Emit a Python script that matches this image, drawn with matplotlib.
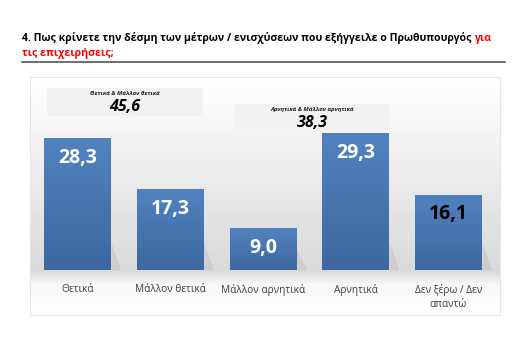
import numpy as np
import matplotlib.pyplot as plt
from matplotlib.colors import LinearSegmentedColormap

categories = ["Θετικά", "Μάλλον θετικά", "Μάλλον αρνητικά", "Αρνητικά", "Δεν ξέρω / Δεν\nαπαντώ"]
values = [28.3, 17.3, 9.0, 29.3, 16.1]
value_labels = ["28,3", "17,3", "9,0", "29,3", "16,1"]
label_colors = ["white", "white", "white", "white", "black"]
group_titles = ["Θετικά & Μάλλον θετικά", "Αρνητικά & Μάλλον αρνητικά"]
group_values = ["45,6", "38,3"]

plt.rcParams['font.family'] = ['Open Sans', 'DejaVu Sans']

W, H = 516, 338
fig = plt.figure(figsize=(W / 100, H / 100), dpi=100)
fig.patch.set_facecolor("white")


def px(x0, y0, x1, y1):
    # pixel box (top-left origin) -> figure fraction rect
    return [x0 / W, 1 - y1 / H, (x1 - x0) / W, (y1 - y0) / H]


# title
t1 = fig.text(22 / W, 1 - 38 / H, "4. Πως κρίνετε την δέσμη των μέτρων / ενισχύσεων που εξήγγειλε ο Πρωθυπουργός ",
              fontsize=7.6, fontweight="bold", color="black", va="center", ha="left")
fig.canvas.draw()
ext = t1.get_window_extent()
fig.text(ext.x1 / W, 1 - 38 / H, "για", fontsize=7.6, fontweight="bold", color="#ff0000", va="center", ha="left")
fig.text(22 / W, 1 - 53 / H, "τις επιχειρήσεις;", fontsize=7.6, fontweight="bold", color="#ff0000",
         va="center", ha="left")
fig.add_artist(plt.Line2D([22 / W, 505 / W], [1 - 62 / H, 1 - 62 / H], color="#555555", lw=1.2))

# background panel with gradient
bg = fig.add_axes(px(30, 77, 500, 315))
grad = np.concatenate([np.linspace(1.0, 0.85, 193), np.linspace(0.85, 0.97, 15), np.linspace(0.97, 1.0, 30)])
bg.imshow(grad[:, None], aspect="auto", cmap="gray", vmin=0, vmax=1, extent=[0, 1, 0, 1])
bg.set_xlim(0, 1)
bg.set_ylim(0, 1)
bg.set_xticks([])
bg.set_yticks([])
for s in bg.spines.values():
    s.set_color("#e6e6e6")
    s.set_linewidth(0.8)

# bars
ax = fig.add_axes(px(30, 77, 500, 270))
ax.patch.set_alpha(0)
x = np.arange(len(values))
bars = ax.bar(x, values, width=0.72, color="#4a7ab8", zorder=3)
cmap = LinearSegmentedColormap.from_list("b", ["#3d68a0", "#5182c0"])
for b in bars:
    bx, by = b.get_x(), b.get_y()
    bw, bh = b.get_width(), b.get_height()
    im = ax.imshow(np.linspace(0, 1, 64)[:, None], cmap=cmap, aspect="auto",
                   extent=[bx, bx + bw, by, by + bh], origin="lower", zorder=3)
    im.set_clip_path(b)
    # faint shadow to the right
    ax.fill_between([bx + bw, bx + bw + 0.1], 0, [min(bh, 12) * 0.5, 0.5], color="#a8a8a8", alpha=0.25,
                    zorder=2, lw=0)
ax.set_xlim(-0.512, 4.555)
ax.set_ylim(0, 193 / 4.66)
for i, (v, lab, c) in enumerate(zip(values, value_labels, label_colors)):
    ax.text(i, v - 19.5 / 4.66, lab, ha="center", va="center", fontsize=14, fontweight="bold", color=c, zorder=5)
ax.axis("off")

# category labels
for i, cat in enumerate(categories):
    xf = (30 + (i + 0.512) * 92.75) / W
    fig.text(xf, 1 - 284 / H, cat, ha="center", va="top", fontsize=7.3, color="#404040", linespacing=1.35)

# group boxes
boxes = [(47, 88, 203, 116), (234, 104, 390, 131)]
for (x0, y0, x1, y1), t, gv in zip(boxes, group_titles, group_values):
    bax = fig.add_axes(px(x0, y0, x1, y1))
    bax.set_facecolor("#f2f2f2")
    bax.set_xticks([])
    bax.set_yticks([])
    for s in bax.spines.values():
        s.set_visible(False)
    cx = (x0 + x1) / 2 / W
    fig.text(cx, 1 - (y0 + 5.5) / H, t, ha="center", va="center", fontsize=4.3, fontweight="bold",
             fontstyle="italic", color="#222222")
    fig.text(cx, 1 - (y0 + 19) / H, gv, ha="center", va="center", fontsize=11.5, fontweight="bold",
             fontstyle="italic", color="black")

fig.savefig("out.png", dpi=100, facecolor="white")
